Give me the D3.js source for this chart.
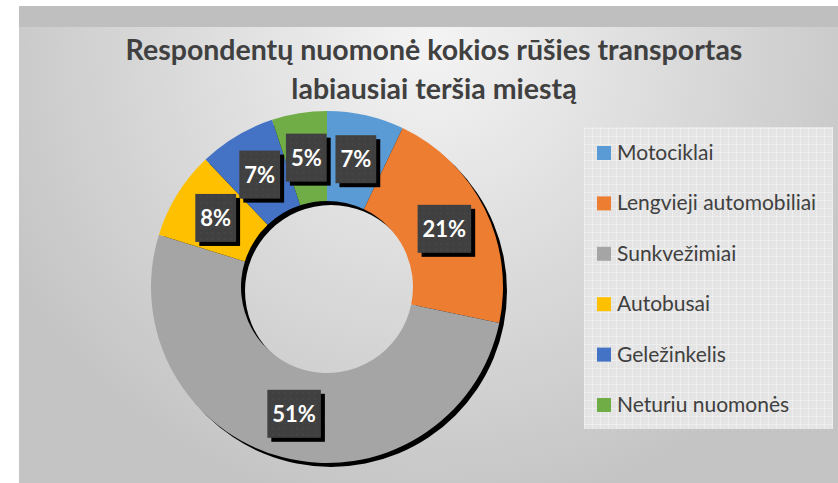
<!DOCTYPE html>
<html lang="lt">
<head>
	<meta charset="UTF-8">
	<script src="https://d3js.org/d3.v7.min.js"></script>
	<style>
	body { margin: 0; background: #fff; }
	text { font-family: Lato, "Noto Sans", sans-serif; }
	</style>
</head>
<body>
	<div id="chart"></div>
	<script>
		// data
		const categories = ["Motociklai", "Lengvieji automobiliai", "Sunkvežimiai", "Autobusai", "Geležinkelis", "Neturiu nuomonės"];
		const values = [7, 21, 51, 8, 7, 5];
		const colors = ["#5b9bd5", "#ed7d31", "#a5a5a5", "#ffc000", "#4472c4", "#70ad47"];
		const titleLines = ["Respondentų nuomonė kokios rūšies transportas", "labiausiai teršia miestą"];

		const width = 838, height = 483;
		const cx = 327, cy = 287, outerR = 176, innerR = 86;

		const svg = d3.select("#chart").append("svg")
			.attr("width", width)
			.attr("height", height);

		const defs = svg.append("defs");

		// chart area background
		const bg = defs.append("radialGradient")
			.attr("id", "bg")
			.attr("gradientUnits", "userSpaceOnUse")
			.attr("cx", 430).attr("cy", 40).attr("r", 480);
		bg.append("stop").attr("offset", 0).attr("stop-color", "#f4f4f4");
		bg.append("stop").attr("offset", 0.45).attr("stop-color", "#dedede");
		bg.append("stop").attr("offset", 1).attr("stop-color", "#c4c4c4");

		// dotted dark fill for the labels
		const dots = defs.append("pattern")
			.attr("id", "dots")
			.attr("patternUnits", "userSpaceOnUse")
			.attr("width", 6).attr("height", 6);
		dots.append("rect").attr("width", 6).attr("height", 6).attr("fill", "#404040");
		dots.append("circle").attr("cx", 3).attr("cy", 3).attr("r", 0.8).attr("fill", "#4e4e4e");

		// grid fill for the legend
		const grid = defs.append("pattern")
			.attr("id", "grid")
			.attr("patternUnits", "userSpaceOnUse")
			.attr("width", 8).attr("height", 8);
		grid.append("rect").attr("width", 8).attr("height", 8).attr("fill", "#e4e4e4");
		grid.append("path").attr("d", "M0 0.5H8M0.5 0V8")
			.attr("stroke", "#eeeeee").attr("stroke-width", 1);
		grid.append("rect").attr("x", 4).attr("y", 4).attr("width", 1).attr("height", 1).attr("fill", "#ebebeb");

		svg.append("rect")
			.attr("x", 19).attr("y", 6)
			.attr("width", width - 19).attr("height", height - 6)
			.attr("fill", "#bfbfbf");
		svg.append("rect")
			.attr("x", 19).attr("y", 27)
			.attr("width", width - 19).attr("height", height - 27)
			.attr("fill", "url(#bg)");

		// title
		svg.append("text")
			.attr("x", 434)
			.attr("text-anchor", "middle")
			.attr("font-size", 28.5)
			.attr("font-weight", "bold")
			.attr("fill", "#404040")
			.selectAll("tspan")
			.data(titleLines)
			.join("tspan")
			.attr("x", 434)
			.attr("y", (d, i) => 60 + i * 39)
			.text(d => d);

		// donut
		const pie = d3.pie().sort(null).value(d => d);
		const arcs = pie(values);
		const arc = d3.arc().innerRadius(innerR).outerRadius(outerR);
		const ring = d3.arc().innerRadius(innerR).outerRadius(outerR).startAngle(0).endAngle(2 * Math.PI);

		const g = svg.append("g").attr("transform", `translate(${cx},${cy})`);

		// hard shadow behind the ring
		g.append("path")
			.attr("d", ring())
			.attr("transform", "translate(4,4)")
			.attr("fill", "#000");

		g.selectAll("path.slice")
			.data(arcs)
			.join("path")
			.attr("class", "slice")
			.attr("d", arc)
			.attr("fill", (d, i) => colors[i]);

		// data labels
		const labels = g.selectAll("g.label")
			.data(arcs)
			.join("g")
			.attr("class", "label")
			.attr("transform", d => `translate(${arc.centroid(d)})`);

		labels.each(function(d) {
			const lab = d3.select(this);
			const txt = lab.append("text")
				.attr("text-anchor", "middle")
				.attr("y", 8)
				.attr("font-size", 22)
				.attr("font-weight", "bold")
				.attr("fill", "#fff")
				.text(d.data + "%");
			const w = txt.node().getComputedTextLength() + 10;
			const h = 48;
			lab.insert("rect", "text")
				.attr("x", -w / 2 + 4).attr("y", -h / 2 + 4)
				.attr("width", w).attr("height", h)
				.attr("fill", "#000");
			lab.insert("rect", "text")
				.attr("x", -w / 2).attr("y", -h / 2)
				.attr("width", w).attr("height", h)
				.attr("fill", "url(#dots)");
		});

		// legend
		svg.append("rect")
			.attr("x", 584).attr("y", 127)
			.attr("width", 249).attr("height", 302)
			.attr("fill", "url(#grid)");

		const legend = svg.append("g")
			.selectAll("g")
			.data(categories)
			.join("g")
			.attr("transform", (d, i) => `translate(597,${153 + i * 50.4})`);

		legend.append("rect")
			.attr("x", 0).attr("y", -7)
			.attr("width", 14).attr("height", 14)
			.attr("fill", (d, i) => colors[i]);

		legend.append("text")
			.attr("x", 20).attr("y", 7)
			.attr("font-size", 21)
			.attr("fill", "#404040")
			.text(d => d);
	</script>
</body>
</html>
